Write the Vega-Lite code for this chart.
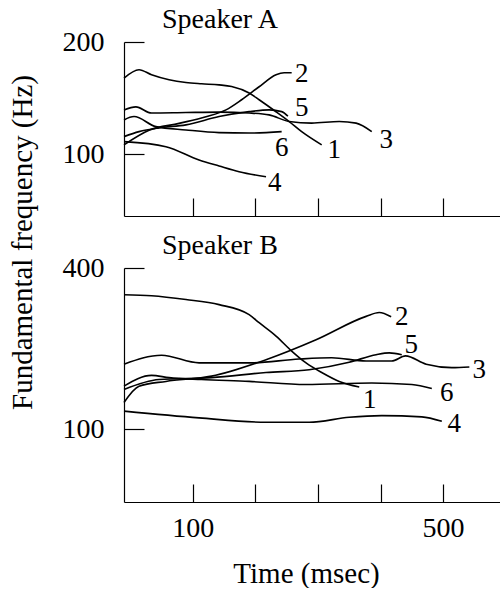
{
  "$schema": "https://vega.github.io/schema/vega-lite/v6.json",
  "padding": {"left": 8, "top": 6, "right": 0, "bottom": 0},
  "background": "white",
  "bounds": "flush",
  "datasets": {
    "lines": [
      {"s":"A","line":"1","t":-10,"f":160},{"s":"A","line":"1","t":14,"f":168.5},{"s":"A","line":"1","t":34,"f":163.4},{"s":"A","line":"1","t":62,"f":158.4},{"s":"A","line":"1","t":89,"f":155.7},{"s":"A","line":"1","t":114,"f":154.5},{"s":"A","line":"1","t":142,"f":153.5},{"s":"A","line":"1","t":162,"f":152},{"s":"A","line":"1","t":190,"f":146},{"s":"A","line":"1","t":206,"f":140},{"s":"A","line":"1","t":233,"f":130},{"s":"A","line":"1","t":254,"f":122.4},{"s":"A","line":"1","t":274,"f":115},{"s":"A","line":"1","t":306,"f":106},
      {"s":"A","line":"2","t":-10,"f":106},{"s":"A","line":"2","t":30,"f":116},{"s":"A","line":"2","t":78,"f":121},{"s":"A","line":"2","t":121,"f":126},{"s":"A","line":"2","t":153,"f":131.5},{"s":"A","line":"2","t":178,"f":140},{"s":"A","line":"2","t":206,"f":151.7},{"s":"A","line":"2","t":233,"f":163.4},{"s":"A","line":"2","t":246,"f":165.4},{"s":"A","line":"2","t":258,"f":165.4},
      {"s":"A","line":"3","t":-10,"f":131.5},{"s":"A","line":"3","t":9,"f":134},{"s":"A","line":"3","t":34,"f":129},{"s":"A","line":"3","t":89,"f":129.4},{"s":"A","line":"3","t":142,"f":129.7},{"s":"A","line":"3","t":190,"f":129},{"s":"A","line":"3","t":222,"f":127.5},{"s":"A","line":"3","t":254,"f":122.4},{"s":"A","line":"3","t":290,"f":121.2},{"s":"A","line":"3","t":334,"f":122.4},{"s":"A","line":"3","t":361,"f":121.2},{"s":"A","line":"3","t":386,"f":115},
      {"s":"A","line":"4","t":-10,"f":108.1},{"s":"A","line":"4","t":57,"f":104.8},{"s":"A","line":"4","t":110,"f":96.5},{"s":"A","line":"4","t":142,"f":93},{"s":"A","line":"4","t":174,"f":89.8},{"s":"A","line":"4","t":217,"f":87},
      {"s":"A","line":"5","t":-10,"f":111.5},{"s":"A","line":"5","t":14,"f":115},{"s":"A","line":"5","t":46,"f":117.7},{"s":"A","line":"5","t":89,"f":119.9},{"s":"A","line":"5","t":142,"f":126.2},{"s":"A","line":"5","t":190,"f":130.1},{"s":"A","line":"5","t":222,"f":131.5},{"s":"A","line":"5","t":242,"f":130.1},{"s":"A","line":"5","t":252,"f":126.5},
      {"s":"A","line":"6","t":-10,"f":123.6},{"s":"A","line":"6","t":6,"f":126.2},{"s":"A","line":"6","t":41,"f":118.6},{"s":"A","line":"6","t":89,"f":116.2},{"s":"A","line":"6","t":142,"f":114.3},{"s":"A","line":"6","t":190,"f":114},{"s":"A","line":"6","t":242,"f":115},
      {"s":"B","line":"1","t":-10,"f":318},{"s":"B","line":"1","t":34,"f":315},{"s":"B","line":"1","t":89,"f":305},{"s":"B","line":"1","t":142,"f":292},{"s":"B","line":"1","t":190,"f":268},{"s":"B","line":"1","t":206,"f":250},{"s":"B","line":"1","t":233,"f":223},{"s":"B","line":"1","t":258,"f":196},{"s":"B","line":"1","t":281,"f":177},{"s":"B","line":"1","t":306,"f":163},{"s":"B","line":"1","t":334,"f":151},{"s":"B","line":"1","t":366,"f":144},
      {"s":"B","line":"2","t":-10,"f":126},{"s":"B","line":"2","t":14,"f":145},{"s":"B","line":"2","t":57,"f":151},{"s":"B","line":"2","t":130,"f":158},{"s":"B","line":"2","t":217,"f":182},{"s":"B","line":"2","t":297,"f":216},{"s":"B","line":"2","t":377,"f":264},{"s":"B","line":"2","t":398,"f":273},{"s":"B","line":"2","t":417,"f":263},
      {"s":"B","line":"3","t":-10,"f":175},{"s":"B","line":"3","t":50,"f":189},{"s":"B","line":"3","t":110,"f":177},{"s":"B","line":"3","t":190,"f":177},{"s":"B","line":"3","t":270,"f":183},{"s":"B","line":"3","t":322,"f":185},{"s":"B","line":"3","t":377,"f":180},{"s":"B","line":"3","t":418,"f":180},{"s":"B","line":"3","t":440,"f":188},{"s":"B","line":"3","t":473,"f":175},{"s":"B","line":"3","t":514,"f":170},{"s":"B","line":"3","t":542,"f":171},
      {"s":"B","line":"4","t":-10,"f":117},{"s":"B","line":"4","t":110,"f":110.4},{"s":"B","line":"4","t":217,"f":106.3},{"s":"B","line":"4","t":286,"f":106.3},{"s":"B","line":"4","t":350,"f":111},{"s":"B","line":"4","t":402,"f":112.6},{"s":"B","line":"4","t":466,"f":111.4},{"s":"B","line":"4","t":498,"f":107.2},
      {"s":"B","line":"5","t":-10,"f":141},{"s":"B","line":"5","t":46,"f":153.5},{"s":"B","line":"5","t":130,"f":156},{"s":"B","line":"5","t":217,"f":163},{"s":"B","line":"5","t":286,"f":167},{"s":"B","line":"5","t":350,"f":178},{"s":"B","line":"5","t":393,"f":190},{"s":"B","line":"5","t":414,"f":193},{"s":"B","line":"5","t":434,"f":190},
      {"s":"B","line":"6","t":-10,"f":145},{"s":"B","line":"6","t":34,"f":159},{"s":"B","line":"6","t":62,"f":156},{"s":"B","line":"6","t":114,"f":153.5},{"s":"B","line":"6","t":190,"f":151},{"s":"B","line":"6","t":281,"f":147},{"s":"B","line":"6","t":386,"f":149},{"s":"B","line":"6","t":450,"f":147},{"s":"B","line":"6","t":482,"f":142}
    ],
    "labels": [
      {"s":"A","label":"2","t":274,"f":164.4},{"s":"A","label":"5","t":274,"f":133.1},{"s":"A","label":"3","t":409,"f":109.3},{"s":"A","label":"6","t":242,"f":104},{"s":"A","label":"4","t":231,"f":83.8},{"s":"A","label":"1","t":326,"f":102.7},
      {"s":"B","label":"2","t":434,"f":263.5},{"s":"B","label":"5","t":449,"f":207},{"s":"B","label":"3","t":558,"f":167},{"s":"B","label":"6","t":506,"f":137},{"s":"B","label":"4","t":518,"f":104.4},{"s":"B","label":"1","t":383,"f":129}
    ]
  },
  "spacing": 52,
  "vconcat": [
    {
      "width": 376,
      "height": 174,
      "title": {"text": "Speaker A", "anchor": "start", "frame": "group", "dx": 38, "baseline": "alphabetic", "offset": -28, "fontSize": 28, "font": "Liberation Serif", "fontWeight": "normal", "color": "black"},
      "layer": [
        {
          "data": {"name": "lines"},
          "transform": [{"filter": "datum.s == 'A'"}],
          "mark": {"type": "line", "interpolate": "monotone", "color": "black", "strokeWidth": 1.6},
          "encoding": {
            "x": {"field": "t", "type": "quantitative", "scale": {"domain": [-10, 591], "nice": false, "zero": false},
                  "axis": {"values": [100, 200, 300, 400, 500], "labels": false, "title": null, "tickSize": -18}},
            "y": {"field": "f", "type": "quantitative", "scale": {"type": "log", "domain": [68.3, 200], "nice": false},
                  "axis": {"values": [100, 200], "title": "Fundamental frequency (Hz)", "tickSize": -20, "labelPadding": 40,
                           "titleX": -93, "titleY": 200, "titleBaseline": "alphabetic", "titleAlign": "center", "titleAngle": 270}},
            "detail": {"field": "line"}
          }
        },
        {
          "mark": {"type": "rule", "color": "black", "strokeWidth": 1.2},
          "encoding": {"y": {"datum": 200}}
        },
        {
          "data": {"name": "labels"},
          "transform": [{"filter": "datum.s == 'A'"}],
          "mark": {"type": "text", "font": "Liberation Serif", "fontSize": 27, "align": "center", "baseline": "middle", "color": "black"},
          "encoding": {
            "x": {"field": "t", "type": "quantitative"},
            "y": {"field": "f", "type": "quantitative"},
            "text": {"field": "label"}
          }
        }
      ]
    },
    {
      "width": 376,
      "height": 234,
      "title": {"text": "Speaker B", "anchor": "start", "frame": "group", "dx": 38, "baseline": "alphabetic", "offset": -28, "fontSize": 28, "font": "Liberation Serif", "fontWeight": "normal", "color": "black"},
      "layer": [
        {
          "data": {"name": "lines"},
          "transform": [{"filter": "datum.s == 'B'"}],
          "mark": {"type": "line", "interpolate": "monotone", "color": "black", "strokeWidth": 1.6},
          "encoding": {
            "x": {"field": "t", "type": "quantitative", "scale": {"domain": [-10, 591], "nice": false, "zero": false},
                  "axis": {"values": [100, 200, 300, 400, 500], "title": "Time (msec)", "tickSize": -18, "labelPadding": 30,
                           "labelExpr": "datum.value == 100 || datum.value == 500 ? datum.label : ''",
                           "titleX": 182, "titleY": 80, "titleBaseline": "alphabetic", "titleAlign": "center"}},
            "y": {"field": "f", "type": "quantitative", "scale": {"type": "log", "domain": [53.6, 400], "nice": false},
                  "axis": {"values": [100, 400], "title": null, "tickSize": -20, "labelPadding": 40}},
            "detail": {"field": "line"}
          }
        },
        {
          "mark": {"type": "rule", "color": "black", "strokeWidth": 1.2},
          "encoding": {"y": {"datum": 400}}
        },
        {
          "data": {"name": "labels"},
          "transform": [{"filter": "datum.s == 'B'"}],
          "mark": {"type": "text", "font": "Liberation Serif", "fontSize": 27, "align": "center", "baseline": "middle", "color": "black"},
          "encoding": {
            "x": {"field": "t", "type": "quantitative"},
            "y": {"field": "f", "type": "quantitative"},
            "text": {"field": "label"}
          }
        }
      ]
    }
  ],
  "config": {
    "view": {"stroke": null},
    "font": "Liberation Serif",
    "axis": {
      "grid": false, "domainColor": "black", "tickColor": "black", "labelColor": "black", "titleColor": "black",
      "labelFont": "Liberation Serif", "titleFont": "Liberation Serif", "labelFontSize": 28, "titleFontSize": 29,
      "titleFontWeight": "normal", "domainWidth": 1.2, "tickWidth": 1.2, "labelFlush": false, "labelOverlap": false
    }
  }
}
